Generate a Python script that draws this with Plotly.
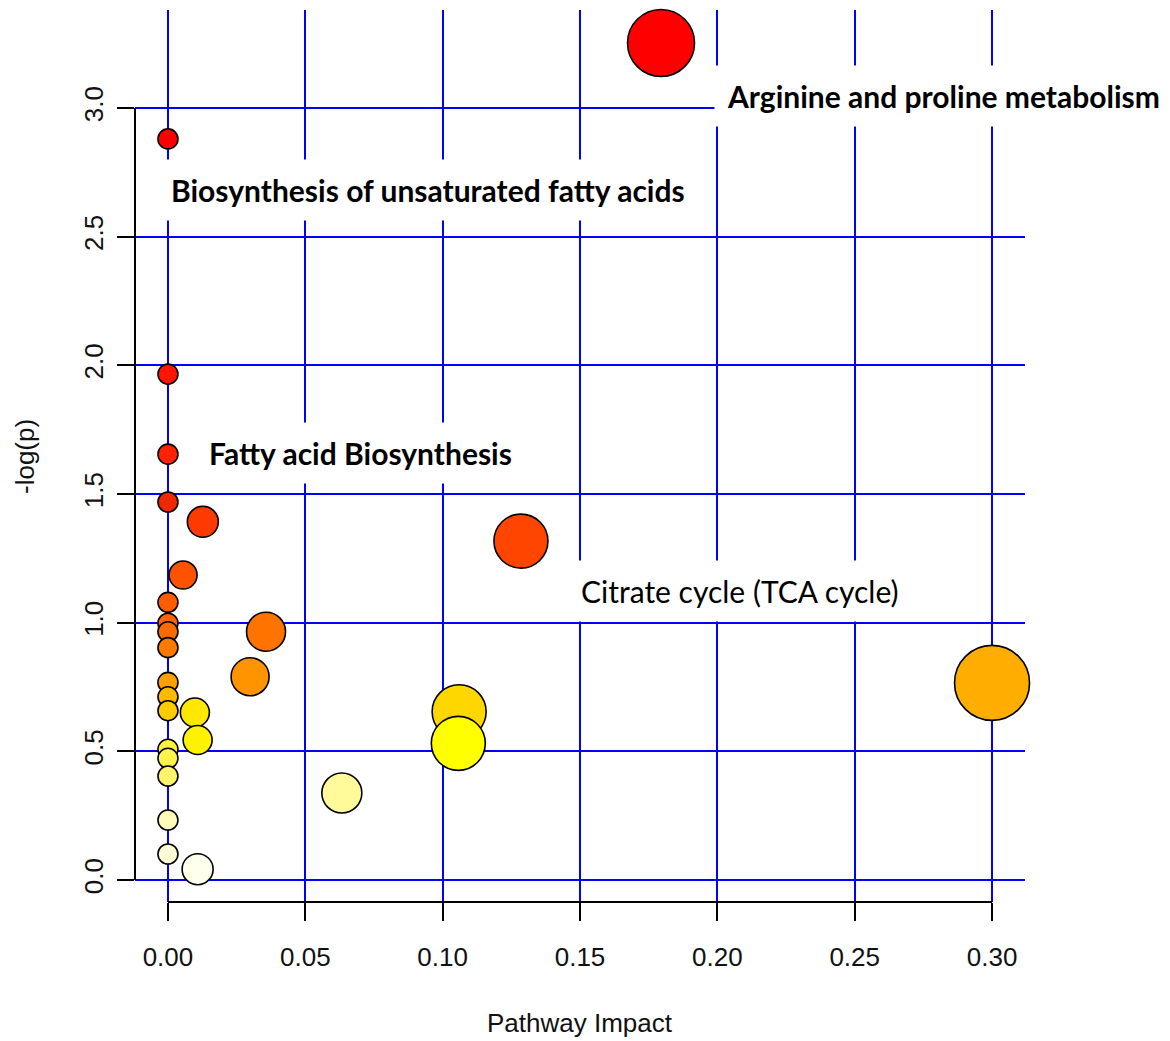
import plotly.graph_objects as go

# Pathway analysis results: impact vs. -log(p), one bubble per pathway
impact = [0.1795, 0.0, 0.0, 0.0, 0.0, 0.0127, 0.1285, 0.0055, 0.0, 0.0,
          0.0, 0.0357, 0.0, 0.0299, 0.0, 0.30, 0.0, 0.0, 0.106, 0.0098,
          0.0108, 0.1057, 0.0, 0.0, 0.0, 0.0633, 0.0, 0.0, 0.0108]
neglogp = [3.253, 2.88, 1.966, 1.655, 1.469, 1.392, 1.317, 1.185, 1.079, 0.998,
           0.965, 0.965, 0.903, 0.790, 0.768, 0.766, 0.712, 0.658, 0.654, 0.651,
           0.544, 0.531, 0.508, 0.473, 0.404, 0.338, 0.233, 0.101, 0.042]
node_size = [67, 20, 20, 20, 20, 31, 54, 28, 20, 20,
             20, 39, 20, 38, 20, 75, 20, 20, 54, 29,
             29, 54, 20, 20, 20, 40, 20, 20, 31]

# heat colours, from most to least significant
node_colors = ["#FF0000", "#FF0000", "#FF1400", "#FF2200", "#F02800", "#FF3A00",
               "#FF4500", "#FF5200", "#FF5C00", "#FF6400", "#FF6A00", "#FF7300",
               "#FF7800", "#FF9400", "#FFA000", "#FFAE00", "#FFBA00", "#FFCC00",
               "#FFD700", "#FFE800", "#FFF200", "#FFFF00", "#FFF23A", "#FFF44C",
               "#FFF56A", "#FFFA9A", "#FFFBB8", "#FFFDD6", "#FFFFEE"]

x_ticks = [0.0, 0.05, 0.10, 0.15, 0.20, 0.25, 0.30]
y_ticks = [0.0, 0.5, 1.0, 1.5, 2.0, 2.5, 3.0]

# labelled pathways: name, label centre (impact, -log p), bold
label_names = ["Arginine and proline metabolism",
               "Biosynthesis of unsaturated fatty acids",
               "Fatty acid Biosynthesis",
               "Citrate cycle (TCA cycle)"]
label_x = [0.2825, 0.0948, 0.0701, 0.2083]
label_y = [3.045, 2.681, 1.659, 1.123]
label_bold = [True, True, True, False]

GRID = "#0000FF"
TICK_FONT = dict(family="Liberation Sans", size=26, color="#111111")

fig = go.Figure()
fig.add_trace(go.Scatter(
    x=impact, y=neglogp, mode="markers",
    marker=dict(size=node_size, sizemode="diameter", color=node_colors,
                opacity=1, line=dict(color="black", width=1.6)),
    cliponaxis=False, hoverinfo="x+y",
))

fig.update_layout(
    width=1170, height=1041,
    margin=dict(l=135, r=145, t=10, b=139),
    plot_bgcolor="white", paper_bgcolor="white",
    showlegend=False,
    xaxis=dict(range=[-0.012, 0.312], tickvals=x_ticks, tickformat=".2f",
               showgrid=True, gridcolor=GRID, gridwidth=2,
               zeroline=True, zerolinecolor=GRID, zerolinewidth=2,
               showline=False, ticks="outside", ticklen=18, tickwidth=1.5,
               tickcolor="black", tickfont=TICK_FONT, ticklabelstandoff=14),
    yaxis=dict(range=[-0.0855, 3.381], tickvals=y_ticks, tickformat=".1f",
               tickangle=-90,
               showgrid=True, gridcolor=GRID, gridwidth=2,
               zeroline=True, zerolinecolor=GRID, zerolinewidth=2,
               showline=False, ticks="outside", ticklen=17, tickwidth=1.5,
               tickcolor="black", tickfont=TICK_FONT, ticklabelstandoff=4),
)

# R-style axis lines spanning only the tick range
fig.add_shape(type="line", xref="paper", yref="y", x0=0, x1=0,
              y0=y_ticks[0], y1=y_ticks[-1], line=dict(color="black", width=2))
fig.add_shape(type="line", xref="x", yref="paper", x0=x_ticks[0], x1=x_ticks[-1],
              y0=0, y1=0, line=dict(color="black", width=2))

for name, lx, ly, bold in zip(label_names, label_x, label_y, label_bold):
    fig.add_annotation(
        x=lx, y=ly, xref="x", yref="y", text=name, showarrow=False,
        font=dict(family="Lato", size=30, color="black",
                  weight="bold" if bold else "normal"),
        bgcolor="white", borderpad=12, xanchor="center", yanchor="middle",
    )

# axis titles
fig.add_annotation(x=0.5, y=-0.1357, xref="paper", yref="paper",
                   text="Pathway Impact", showarrow=False,
                   font=dict(family="Liberation Sans", size=26, color="#111111"),
                   xanchor="center", yanchor="middle")
fig.add_annotation(x=-0.1236, y=0.5, xref="paper", yref="paper",
                   text="-log(p)", showarrow=False, textangle=-90,
                   font=dict(family="Liberation Sans", size=26, color="#111111"),
                   xanchor="center", yanchor="middle")

fig.write_html("out.html")
